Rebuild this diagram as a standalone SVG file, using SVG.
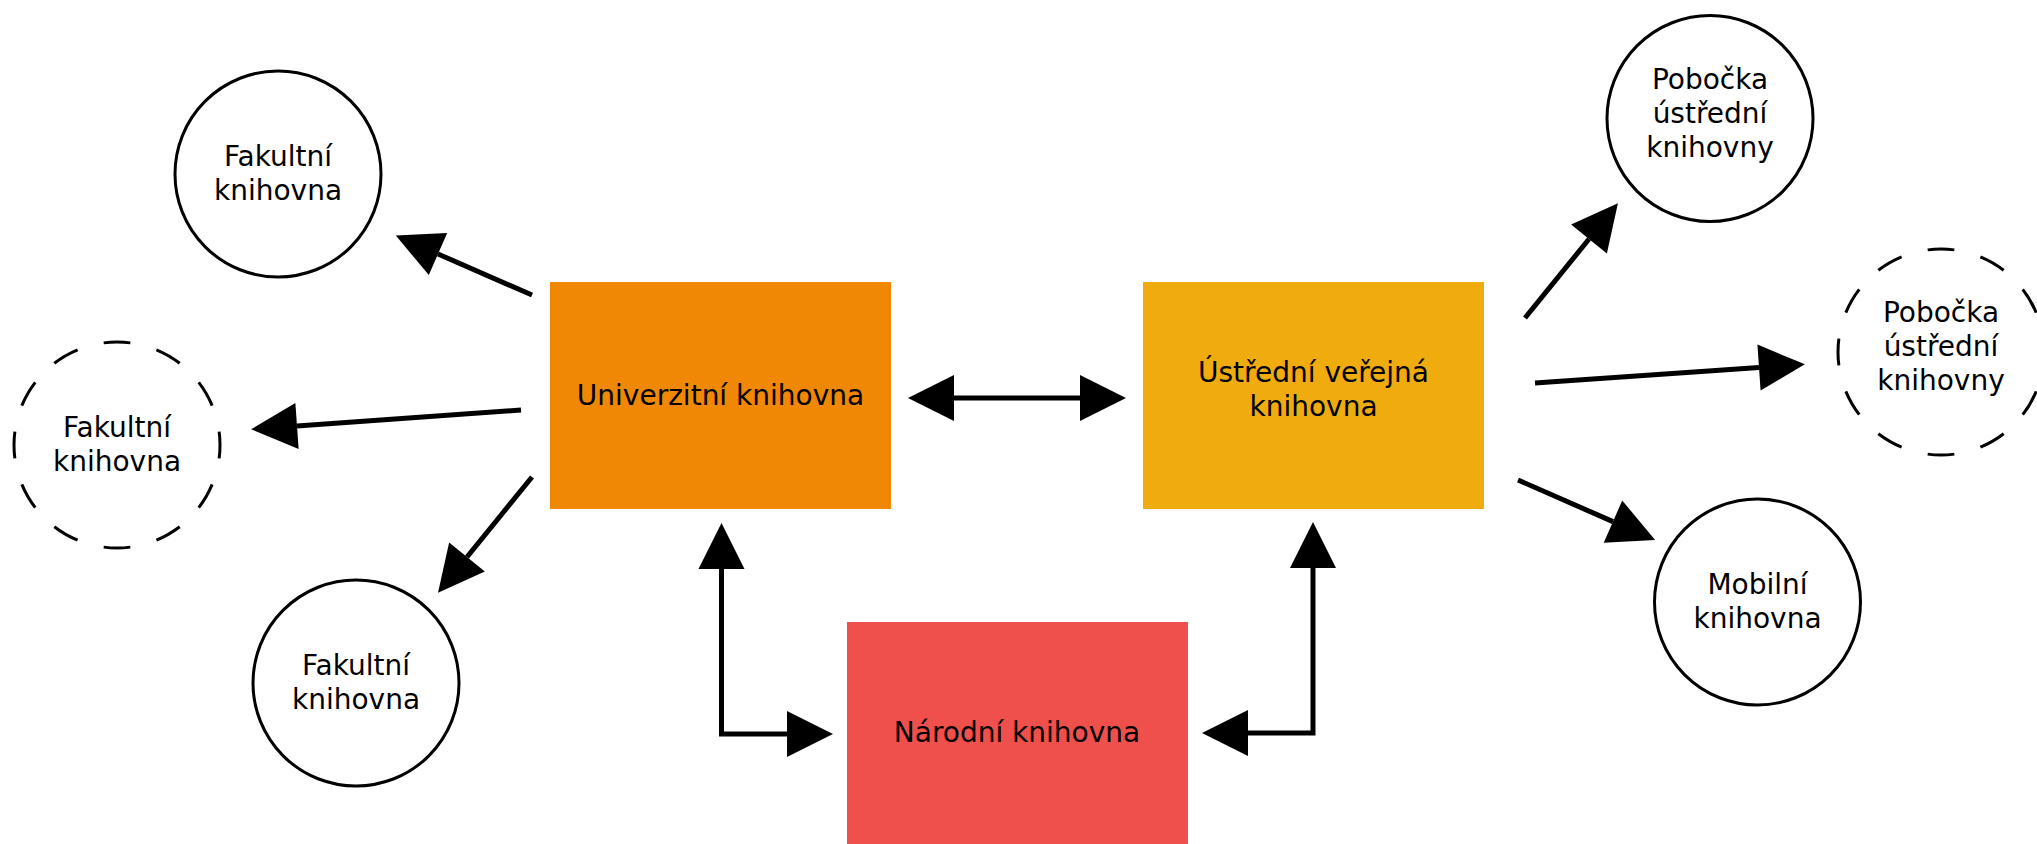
<svg xmlns="http://www.w3.org/2000/svg" width="2037" height="844" viewBox="0 0 2037 844">
<style>
text{font-family:"DejaVu Sans","Liberation Sans",sans-serif;font-size:28px;fill:#000;text-anchor:middle}
.c{fill:#fff;stroke:#000;stroke-width:3}
.d{stroke-dasharray:1 1;stroke-dashoffset:0.5}
.e{fill:none;stroke:#000;stroke-width:5}
</style>
<defs>
<marker id="ah" viewBox="0 -24 48 48" refX="0" refY="0" markerWidth="48" markerHeight="48" markerUnits="userSpaceOnUse" orient="auto-start-reverse" overflow="visible">
<path d="M0,-23 L46,0 L0,23 Z" fill="#000"/>
</marker>
</defs>
<rect width="2037" height="844" fill="#fff"/>
<g id="fak1"><circle class="c" cx="278" cy="174" r="103"/><text x="278" y="166">Fakultní</text><text x="278" y="200">knihovna</text></g>
<g id="fak2"><circle class="c d" cx="117" cy="445" r="103" pathLength="24"/><text x="117" y="437">Fakultní</text><text x="117" y="471">knihovna</text></g>
<g id="fak3"><circle class="c" cx="356" cy="683" r="103"/><text x="356" y="675">Fakultní</text><text x="356" y="709">knihovna</text></g>
<g id="univ"><rect x="550" y="282" width="341" height="227" fill="#F08705"/><text x="720.5" y="404.5">Univerzitní knihovna</text></g>
<g id="ustr"><rect x="1143" y="282" width="341" height="227" fill="#F0AC0E"/><text x="1313.5" y="381.5">Ústřední veřejná</text><text x="1313.5" y="415.5">knihovna</text></g>
<g id="narod"><rect x="847" y="622" width="341" height="227" fill="#F0504C"/><text x="1017" y="742">Národní knihovna</text></g>
<g id="pob1"><circle class="c" cx="1710" cy="118.5" r="103"/><text x="1710" y="89">Pobočka</text><text x="1710" y="123">ústřední</text><text x="1710" y="157">knihovny</text></g>
<g id="pob2"><circle class="c d" cx="1941" cy="352" r="103" pathLength="24"/><text x="1941" y="322">Pobočka</text><text x="1941" y="356">ústřední</text><text x="1941" y="390">knihovny</text></g>
<g id="mobil"><circle class="c" cx="1757.5" cy="602" r="103"/><text x="1757.5" y="594">Mobilní</text><text x="1757.5" y="628">knihovna</text></g>
<g id="connectors">
<path class="e" d="M954,398 L1080,398" marker-start="url(#ah)" marker-end="url(#ah)"/>
<path class="e" d="M721.5,569 L721.5,734 L787,734" marker-start="url(#ah)" marker-end="url(#ah)"/>
<path class="e" d="M1313,568 L1313,733 L1248,733" marker-start="url(#ah)" marker-end="url(#ah)"/>
<path class="e" d="M532,295 L438,254" marker-end="url(#ah)"/>
<path class="e" d="M521,410 L297,426" marker-end="url(#ah)"/>
<path class="e" d="M532,477 L467,557" marker-end="url(#ah)"/>
<path class="e" d="M1525,318 L1589,239" marker-end="url(#ah)"/>
<path class="e" d="M1535,383 L1759,367.5" marker-end="url(#ah)"/>
<path class="e" d="M1518,480 L1613,521.6" marker-end="url(#ah)"/>
</g>
</svg>
